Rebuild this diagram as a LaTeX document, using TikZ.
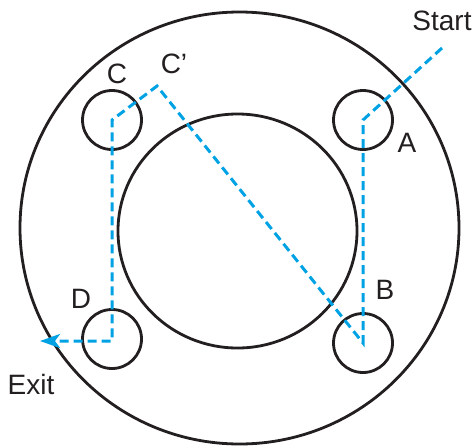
\documentclass[tikz,border=0pt]{standalone}
\usepackage{fontspec}
\setmainfont{Liberation Sans}
\usetikzlibrary{arrows.meta}
\definecolor{pathblue}{RGB}{0,162,228}
\definecolor{ink}{RGB}{35,31,32}
\begin{document}
\begin{tikzpicture}[x=1pt,y=-1pt,
  ring/.style={draw=ink,line width=2.8pt},
  hole/.style={draw=ink,line width=2.8pt,circle,minimum size=59pt,inner sep=0pt},
  lbl/.style={inner sep=0pt,text=ink,font=\fontsize{28}{32}\selectfont},
  route/.style={draw=pathblue,line width=3pt,dash pattern=on 9pt off 5pt}]
\useasboundingbox (0,0) rectangle (473,447);
% flange rings
\draw[ring] (239.5,228) ellipse [x radius=219.5, y radius=216];
\draw[ring] (237.5,231) ellipse [x radius=119.5, y radius=117];
% bolt holes
\node[hole] (A) at (363,120) {};
\node[hole] (B) at (363,343) {};
\node[hole] (C) at (112,120) {};
\node[hole] (D) at (112,339) {};
% route points
\coordinate (start) at (442,48);
\coordinate (cp) at (157,86);
\coordinate (exit) at (40,341);
% route
\draw[route,-{Stealth[length=20pt,width=14pt,inset=5pt]}]
  (start) -- (A.center) -- (B.center) -- (cp) -- (C.center) -- (D.center |- exit) -- (exit);
% labels
\node[lbl] (lstart) at (442,21) {Start};
\node[lbl] (lA) at (407,143) {A};
\node[lbl] (lB) at (385,290) {B};
\node[lbl] (lC) at (117,74) {C};
\node[lbl] (lCp) at (174,64) {C’};
\node[lbl] (lD) at (81,299) {D};
\node[lbl] (lexit) at (31,384) {Exit};
\end{tikzpicture}
\end{document}
